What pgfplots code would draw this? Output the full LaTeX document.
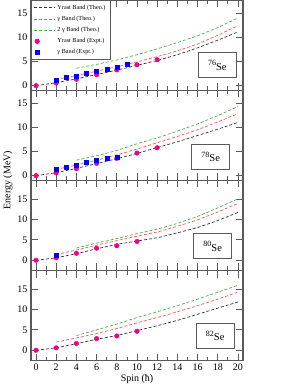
\documentclass[border=0pt]{standalone}
\usepackage{fontspec}
\setmainfont{Liberation Serif}
\usepackage{pgfplots}
\pgfplotsset{compat=1.18}
\definecolor{cblack}{RGB}{50,50,50}
\definecolor{cred}{RGB}{255,80,80}
\definecolor{cgreen}{RGB}{70,175,70}
\definecolor{cax}{RGB}{90,90,90}
\tikzset{lbl/.style={draw=cax, line width=0.8pt, minimum width=38pt, minimum height=25pt, inner sep=1pt, fill=white}}
\pgfplotsset{
  panel/.style={
    width=212pt, height=90pt, scale only axis,
    xmin=-0.5, xmax=20.5,
    xtick={0,2,...,20}, minor x tick num=1,
    ytick={0,5,10,15},
    tick align=inside, tick pos=both,
    major tick length=7pt, minor tick length=4pt,
    every tick/.style={cax, line width=0.8pt},
    axis line style={cax, line width=1.1pt},
    tick label style={font=\fontsize{10}{12}\selectfont},
    /pgf/number format/assume math mode=true,
    clip=false,
  },
  pfirst/.style={ymin=-1, ymax=17.6},
  psecond/.style={ymin=-2.5, ymax=19.5},
  ln/.style={dash pattern=on 3pt off 2pt, line width=0.7pt,
    legend image code/.code={\draw[##1] (0pt,0pt) -- (21pt,0pt);}},
  yt/.style={ln, cblack},
  gt/.style={ln, cred},
  ggt/.style={ln, cgreen},
  mk/.style={only marks, legend image code/.code={\draw[##1] plot coordinates {(3pt,0pt)};}},
  ye/.style={mk, mark=*, mark size=2.3pt, draw=magenta, fill=magenta},
  ge/.style={mk, mark=square*, mark size=2.0pt, draw=blue, fill=blue},
}
\newcommand{\nuc}[1]{\raisebox{2.5pt}{\fontsize{8}{9}\selectfont #1}\raisebox{-2pt}{\fontsize{10.5}{12}\selectfont Se}}
\begin{document}
\begin{tikzpicture}
\useasboundingbox (0pt,0pt) rectangle (281pt,389pt);
% Panel 1: 76Se
\begin{axis}[panel, pfirst, at={(31pt,298.5pt)}, anchor=south west, xticklabels={},
  legend style={at={(0,1)}, anchor=north west, draw=cax, line width=0.6pt,
    font=\fontsize{6.2}{7}\selectfont, cells={anchor=west}, inner xsep=2.5pt, inner ysep=2pt,
    row sep=1.4pt, fill=white}]
\addplot[yt] coordinates {(0,0)(2,0.6)(4,1.4)(6,2.3)(8,3.2)(10,4.2)(12,5.2)(14,6.4)(16,7.8)(18,9.4)(20,11.1)};
\addlegendentry{Yrast Band (Theo.)}
\addplot[gt] coordinates {(2,1.3)(4,2.1)(6,3.0)(8,3.9)(10,4.9)(12,6.0)(14,7.2)(16,8.6)(18,10.4)(20,12.4)};
\addlegendentry{γ Band (Theo.)}
\addplot[ggt] coordinates {(4,3.6)(6,4.4)(8,5.3)(10,6.4)(12,7.6)(14,8.9)(16,10.3)(18,12.0)(20,14.0)};
\addlegendentry{2 γ Band (Theo.)}
\addplot[ye] coordinates {(0,0)(2,0.56)(4,1.33)(6,2.26)(8,3.25)(10,4.33)(12,5.36)};
\addlegendentry{Yrast Band (Expt.)}
\addplot[ge] coordinates {(2,1.22)(3,1.69)(4,2.03)(5,2.5)(6,2.97)(7,3.44)(8,3.8)(9,4.42)};
\addlegendentry{γ Band (Expt.)}
\node[lbl] at (axis cs:17.95,4.2) {\nuc{76}};
\end{axis}
% Panel 2: 78Se
\begin{axis}[panel, pfirst, at={(31pt,208.5pt)}, anchor=south west, xticklabels={}]
\addplot[yt] coordinates {(0,0)(2,0.6)(4,1.5)(6,2.5)(8,3.5)(10,4.6)(12,5.8)(14,7.0)(16,8.3)(18,9.6)(20,11.0)};
\addplot[gt] coordinates {(2,1.3)(4,2.2)(6,3.2)(8,4.3)(10,5.5)(12,6.8)(14,8.1)(16,9.5)(18,11.1)(20,12.8)};
\addplot[ggt] coordinates {(4,3.2)(6,4.1)(8,5.2)(10,6.6)(12,7.8)(14,9.2)(16,10.7)(18,12.4)(20,14.3)};
\addplot[ye] coordinates {(0,0)(2,0.6)(4,1.45)(6,2.54)(8,3.57)(10,4.67)(12,5.77)};
\addplot[ge] coordinates {(2,1.3)(3,1.85)(4,2.15)(5,2.74)(6,3.1)(7,3.71)(8,3.77)};
\node[lbl] at (axis cs:17.3,3.9) {\nuc{78}};
\end{axis}
% Panel 3: 80Se
\begin{axis}[panel, psecond, at={(31pt,118.5pt)}, anchor=south west, xticklabels={}]
\addplot[yt] coordinates {(0,0)(2,0.6)(4,1.6)(6,2.8)(8,3.9)(10,4.7)(12,5.5)(14,6.7)(16,8.0)(18,9.7)(20,11.7)};
\addplot[gt] coordinates {(2,1.4)(4,2.5)(6,3.7)(8,4.8)(10,5.9)(12,6.9)(14,8.3)(16,9.9)(18,11.8)(20,13.9)};
\addplot[ggt] coordinates {(4,3.0)(6,4.2)(8,5.3)(10,6.5)(12,7.6)(14,9.0)(16,10.7)(18,12.8)(20,15.0)};
\addplot[ye] coordinates {(0,0)(2,0.6)(4,1.7)(6,2.95)(8,3.55)(10,4.6)};
\addplot[ge] coordinates {(2,1.3)};
\node[lbl] at (axis cs:17.5,3.4) {\nuc{80}};
\end{axis}
% Panel 4: 82Se
\begin{axis}[panel, psecond, at={(31pt,28.5pt)}, anchor=south west,
  xlabel={Spin (ħ)}, xlabel style={font=\fontsize{10}{12}\selectfont, yshift=3pt}]
\addplot[yt] coordinates {(0,0)(2,0.6)(4,1.6)(6,2.7)(8,3.6)(10,4.8)(12,6.0)(14,7.3)(16,8.8)(18,10.3)(20,11.8)};
\addplot[gt] coordinates {(2,2.0)(4,3.0)(6,4.1)(8,5.3)(10,6.7)(12,8.0)(14,9.4)(16,10.9)(18,12.5)(20,14.2)};
\addplot[ggt] coordinates {(4,3.6)(6,5.0)(8,6.4)(10,8.0)(12,9.4)(14,10.9)(16,12.5)(18,14.2)(20,15.9)};
\addplot[ye] coordinates {(0,0)(2,0.6)(4,1.65)(6,2.85)(8,3.5)(10,4.65)};
\node[lbl] at (axis cs:17.75,3.56) {\nuc{82}};
\end{axis}
\node[rotate=90, font=\fontsize{10}{12}\selectfont] at (8pt,209pt) {Energy (MeV)};
\end{tikzpicture}
\end{document}
